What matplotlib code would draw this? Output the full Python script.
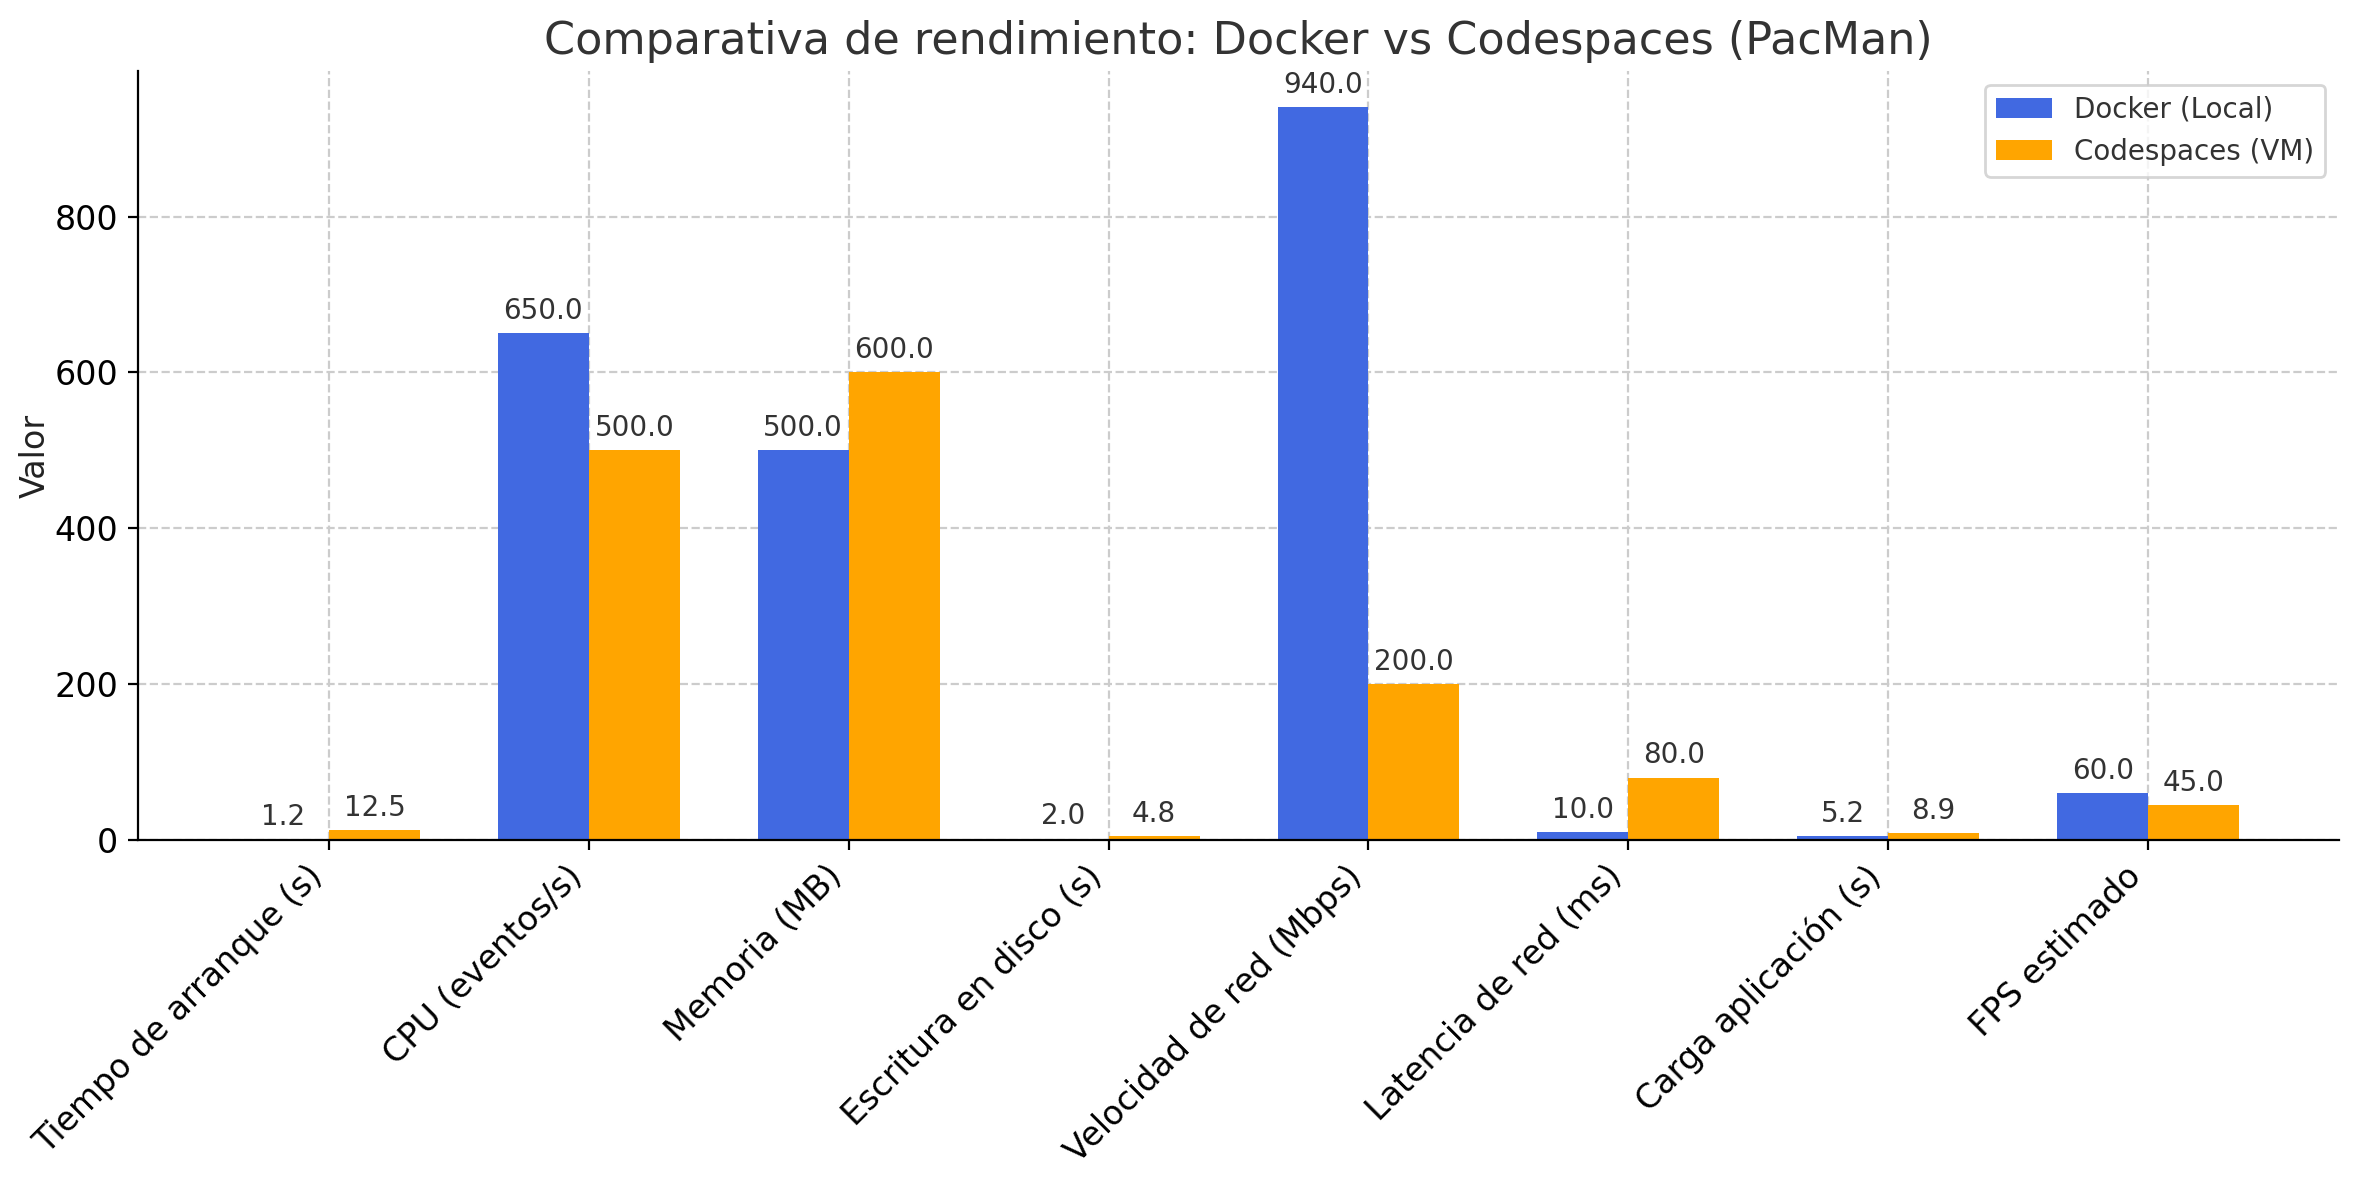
import numpy as np
import matplotlib
matplotlib.use("Agg")
import matplotlib.pyplot as plt

metricas = ["Tiempo de arranque (s)", "CPU (eventos/s)", "Memoria (MB)",
            "Escritura en disco (s)", "Velocidad de red (Mbps)",
            "Latencia de red (ms)", "Carga aplicación (s)", "FPS estimado"]
docker = [1.2, 650.0, 500.0, 2.0, 940.0, 10.0, 5.2, 60.0]
codespaces = [12.5, 500.0, 600.0, 4.8, 200.0, 80.0, 8.9, 45.0]

x = np.arange(len(metricas))
ancho = 0.35

fig, ax = plt.subplots(figsize=(11.79, 5.9), dpi=200)
fig.subplots_adjust(left=0.0585, right=0.992, top=0.94, bottom=0.288)

b1 = ax.bar(x - ancho / 2, docker, ancho, label="Docker (Local)", color="royalblue")
b2 = ax.bar(x + ancho / 2, codespaces, ancho, label="Codespaces (VM)", color="orange")

# Valores encima de cada barra
for barras in (b1, b2):
    ax.bar_label(barras, fmt="%.1f", padding=3, fontsize=10, color="#333333")

ax.set_xticks(x, metricas, rotation=45, ha="right", fontsize=12)
ax.tick_params(axis="y", labelsize=12)
ax.set_ylabel("Valor", fontsize=12, color="#222222", labelpad=1)
ax.set_title("Comparativa de rendimiento: Docker vs Codespaces (PacMan)",
             fontsize=16, color="#333333")
ax.grid(True, linestyle="--", color="#cccccc", linewidth=0.8)
ax.set_axisbelow(True)
for lado in ("top", "right"):
    ax.spines[lado].set_visible(False)
ax.legend(loc="upper right", fontsize=10, labelcolor="#333333")

fig.savefig("out.png", dpi=200)
